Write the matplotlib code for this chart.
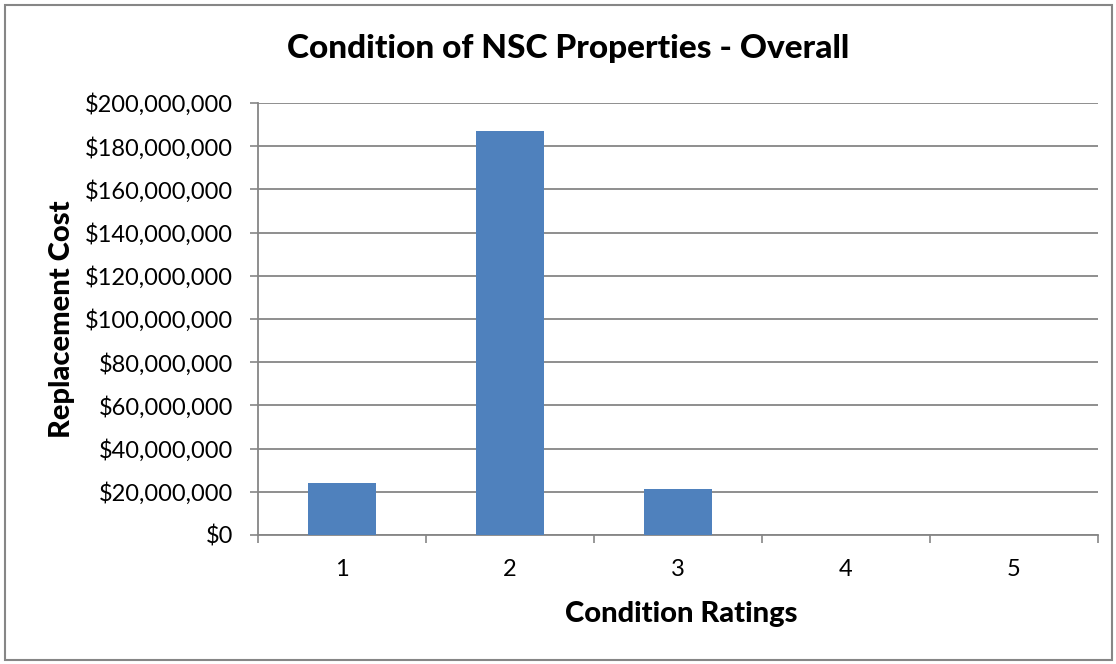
import matplotlib.pyplot as plt
import matplotlib.ticker as mticker
from matplotlib.patches import Rectangle

# Data
ratings = [1, 2, 3, 4, 5]
replacement_cost = [24100000, 187000000, 21200000, 0, 0]
y_ticks = list(range(0, 200000001, 20000000))

plt.rcParams['font.family'] = ['Lato', 'DejaVu Sans']

W, H = 1116, 664
fig = plt.figure(figsize=(W / 100, H / 100), dpi=100)
ax = fig.add_axes([258 / W, 129 / H, 840 / W, 432 / H])

ax.bar(ratings, replacement_cost, width=0.4, color='#4F81BD', zorder=3)

ax.set_xlim(0.5, 5.5)
ax.set_ylim(0, 200000000)
ax.set_yticks(y_ticks)
ax.yaxis.set_major_formatter(mticker.FuncFormatter(lambda v, p: '${:,.0f}'.format(v)))

# tick marks on category boundaries, labels in the middle
ax.set_xticks([0.5, 1.5, 2.5, 3.5, 4.5, 5.5])
ax.set_xticklabels([])
ax.set_xticks(ratings, minor=True)
ax.set_xticklabels([str(r) for r in ratings], minor=True)
ax.tick_params(axis='x', which='minor', length=0, pad=17, labelsize=17)
ax.tick_params(axis='x', which='major', length=6, width=1.2, color='#868686')
ax.tick_params(axis='y', length=6, width=1.2, color='#868686', labelsize=17, pad=12)

ax.grid(axis='y', color='#868686', linewidth=1.3, zorder=0)
for s in ['top', 'right']:
    ax.spines[s].set_visible(False)
for s in ['left', 'bottom']:
    ax.spines[s].set_color('#868686')
    ax.spines[s].set_linewidth(1.3)

# title and axis labels placed in pixel positions of the reference
fig.text(568 / W, 1 - 58 / H, 'Condition of NSC Properties - Overall',
         fontsize=24, fontweight='black', ha='center', va='baseline')
fig.text(681 / W, 1 - 622 / H, 'Condition Ratings',
         fontsize=21, fontweight='black', ha='center', va='baseline')
fig.text(70 / W, 1 - 319 / H, 'Replacement Cost', rotation=90, rotation_mode='anchor',
         fontsize=21, fontweight='black', ha='center', va='baseline')

fig.patches.append(Rectangle((4.5 / W, 4.5 / H), 1107 / W, 655 / H,
                             transform=fig.transFigure, fill=False,
                             edgecolor='#868686', linewidth=1.5))

fig.savefig('out.png', dpi=100)
